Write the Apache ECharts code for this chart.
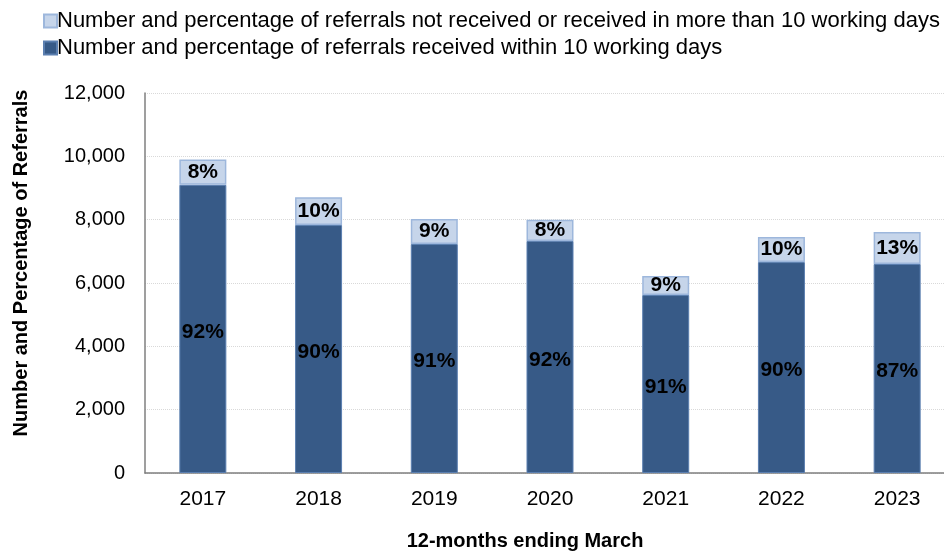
<!DOCTYPE html>
<html>
<head>
<meta charset="utf-8">
<script src="https://cdn.jsdelivr.net/npm/echarts@6/dist/echarts.min.js"></script>
<style>
  html, body { margin: 0; padding: 0; background: #fff; overflow: hidden; }
  #chart { width: 944px; height: 553px; }
</style>
</head>
<body>
<div id="chart"></div>
<script>
// data
const years = ['2017', '2018', '2019', '2020', '2021', '2022', '2023']
const within10 = [9100, 7830, 7230, 7330, 5620, 6660, 6600]
const notWithin10 = [800, 880, 790, 670, 600, 790, 1010]
const withinPct = ['92%', '90%', '91%', '92%', '91%', '90%', '87%']
const notWithinPct = ['8%', '10%', '9%', '8%', '9%', '10%', '13%']

const nameLate = 'Number and percentage of referrals not received or received in more than 10 working days'
const nameOnTime = 'Number and percentage of referrals received within 10 working days'

const font = 'Liberation Sans, Arial, sans-serif'

const chart = echarts.init(document.getElementById('chart'))

chart.setOption({
  animation: false,
  textStyle: { fontFamily: font },
  legend: {
    orient: 'vertical',
    left: 38,
    top: 5,
    icon: 'rect',
    itemWidth: 13,
    itemHeight: 13,
    itemGap: 5,
    data: [nameLate, nameOnTime],
    textStyle: { fontSize: 22, color: '#000', fontFamily: font, padding: [0, 0, 0, -5] }
  },
  grid: {
    left: 145,
    width: 810,
    top: 93,
    bottom: 80,
    outerBoundsMode: 'none'
  },
  xAxis: {
    type: 'category',
    data: years,
    name: '12-months ending March',
    nameLocation: 'middle',
    nameGap: 58,
    nameTextStyle: { fontSize: 20, fontWeight: 'bold', color: '#000', padding: [0, 50, 0, 0] },
    axisLine: { lineStyle: { color: '#7f7f7f', width: 1.5 } },
    axisTick: { show: false },
    axisLabel: { fontSize: 21, color: '#000', margin: 16 }
  },
  yAxis: {
    type: 'value',
    min: 0,
    max: 12000,
    interval: 2000,
    name: 'Number and Percentage of Referrals',
    nameLocation: 'middle',
    nameGap: 114,
    nameTextStyle: { fontSize: 20, fontWeight: 'bold', color: '#000', padding: [0, 0, 0, 40] },
    axisLine: { show: true, lineStyle: { color: '#7f7f7f', width: 1.5 } },
    axisTick: { show: false },
    axisLabel: {
      fontSize: 20,
      color: '#000',
      margin: 20,
      formatter: v => v.toLocaleString('en-GB')
    },
    splitLine: { lineStyle: { color: '#d9d9d9', type: 'dotted' } }
  },
  series: [
    {
      name: nameOnTime,
      type: 'bar',
      stack: 'total',
      barWidth: 47,
      data: within10,
      itemStyle: { color: '#375a87', borderColor: '#5b7fb0', borderWidth: 1 },
      label: {
        show: true,
        position: 'inside',
        offset: [0, 3],
        formatter: p => withinPct[p.dataIndex],
        fontSize: 21,
        fontWeight: 'bold',
        color: '#000'
      }
    },
    {
      name: nameLate,
      type: 'bar',
      stack: 'total',
      barWidth: 47,
      data: notWithin10,
      itemStyle: { color: '#c6d5ea', borderColor: '#9db7dc', borderWidth: 1.5 },
      label: {
        show: true,
        position: 'inside',
        formatter: p => notWithinPct[p.dataIndex],
        fontSize: 21,
        fontWeight: 'bold',
        color: '#000'
      }
    }
  ]
})
</script>
</body>
</html>
